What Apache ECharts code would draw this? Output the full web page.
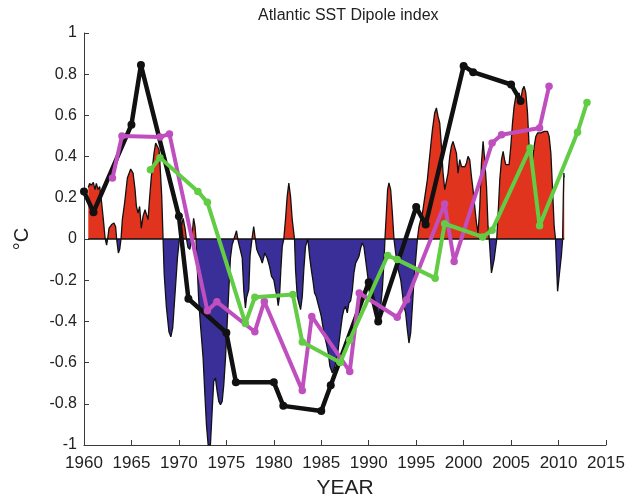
<!DOCTYPE html>
<html>
<head>
<meta charset="utf-8">
<script src="https://cdn.jsdelivr.net/npm/echarts@6/dist/echarts.min.js"></script>
<style>
  html, body { margin: 0; padding: 0; background: #fff; }
  #chart { width: 627px; height: 499px; }
</style>
</head>
<body>
<div id="chart"></div>
<script>
// Monthly-smoothed Atlantic SST dipole index (°C)
const dipoleYears = [
  1960.45, 1960.59, 1960.77, 1960.98, 1961.16, 1961.30, 1961.48, 1961.65, 1961.86, 1962.04,
  1962.22, 1962.38, 1962.49, 1962.64, 1962.91, 1963.16, 1963.33, 1963.44, 1963.62, 1963.76,
  1963.90, 1964.04, 1964.28, 1964.57, 1964.92, 1965.17, 1965.38, 1965.52, 1965.70, 1965.86,
  1966.04, 1966.22, 1966.43, 1966.60, 1966.75, 1966.89, 1967.10, 1967.38, 1967.55, 1967.73,
  1967.91, 1968.02, 1968.19, 1968.33, 1968.45, 1968.68, 1968.95, 1969.15, 1969.35, 1969.60,
  1969.85, 1970.05, 1970.25, 1970.45, 1970.65, 1970.80, 1970.95, 1971.15, 1971.35, 1971.55,
  1971.70, 1971.80, 1971.92, 1972.09, 1972.27, 1972.55, 1972.72, 1972.90, 1973.08, 1973.32,
  1973.50, 1973.67, 1973.85, 1974.03, 1974.20, 1974.38, 1974.56, 1974.73, 1974.91, 1975.08,
  1975.25, 1975.43, 1975.61, 1975.80, 1976.07, 1976.20, 1976.67, 1976.84, 1977.01, 1977.12,
  1977.36, 1977.50, 1977.70, 1977.88, 1978.05, 1978.20, 1978.35, 1978.60, 1978.78, 1979.05,
  1979.30, 1979.55, 1979.76, 1980.00, 1980.18, 1980.36, 1980.46, 1980.60, 1980.74, 1980.89,
  1981.05, 1981.23, 1981.41, 1981.58, 1981.76, 1981.94, 1982.18, 1982.29, 1982.47, 1982.64,
  1982.82, 1983.00, 1983.16, 1983.34, 1983.59, 1983.77, 1983.95, 1984.11, 1984.29, 1984.47,
  1984.64, 1984.82, 1985.00, 1985.17, 1985.35, 1985.53, 1985.74, 1985.91, 1986.16, 1986.33,
  1986.69, 1986.86, 1987.04, 1987.22, 1987.38, 1987.56, 1987.74, 1987.91, 1988.09, 1988.27,
  1988.44, 1988.62, 1988.80, 1988.97, 1989.15, 1989.32, 1989.49, 1989.67, 1989.85, 1990.02,
  1990.20, 1990.38, 1990.73, 1990.91, 1991.08, 1991.26, 1991.43, 1991.60, 1991.71, 1991.86,
  1991.99, 1992.13, 1992.31, 1992.49, 1992.66, 1992.84, 1993.02, 1993.37, 1993.54, 1993.71,
  1993.89, 1994.07, 1994.24, 1994.42, 1994.60, 1994.77, 1994.95, 1995.13, 1995.30, 1995.48,
  1995.66, 1995.82, 1996.18, 1996.35, 1996.53, 1996.71, 1996.95, 1997.13, 1997.30, 1997.48,
  1997.66, 1997.83, 1998.01, 1998.19, 1998.36, 1998.54, 1998.71, 1998.88, 1999.06, 1999.24,
  1999.41, 1999.59, 1999.77, 1999.94, 2000.12, 2000.30, 2000.46, 2000.64, 2000.82, 2000.99,
  2001.17, 2001.35, 2001.52, 2001.70, 2001.88, 2002.05, 2002.22, 2002.41, 2002.57, 2002.70,
  2002.93, 2003.21, 2003.49, 2003.67, 2003.81, 2003.99, 2004.16, 2004.31, 2004.44, 2004.62,
  2004.79, 2004.97, 2005.15, 2005.32, 2005.50, 2005.68, 2005.84, 2006.02, 2006.20, 2006.37,
  2006.55, 2006.73, 2006.90, 2007.08, 2007.26, 2007.43, 2007.61, 2007.79, 2007.96, 2008.14,
  2008.49, 2008.66, 2008.84, 2009.01, 2009.19, 2009.37, 2009.54, 2009.68, 2009.90, 2010.09,
  2010.30, 2010.43, 2010.50, 2010.56, 2010.60
];
const dipoleValues = [
  0.25, 0.27, 0.26, 0.275, 0.24, 0.27, 0.24, 0.255, 0.175, 0.094,
  0.005, -0.03, 0.0, 0.053, 0.07, 0.078, 0.06, 0.0, -0.068, -0.05,
  0.0, 0.094, 0.175, 0.296, 0.34, 0.32, 0.24, 0.158, 0.126, 0.158,
  0.053, 0.11, 0.142, 0.142, 0.094, 0.187, 0.304, 0.417, 0.466, 0.466,
  0.433, 0.352, 0.207, 0.0, -0.17, -0.33, -0.45, -0.475, -0.43, -0.26,
  -0.09, 0.0, 0.06, 0.10, 0.05, 0.0, -0.04, -0.05, 0.0, 0.10,
  0.06, 0.0, -0.125, -0.30, -0.416, -0.578, -0.74, -0.90, -1.0, -1.0,
  -0.837, -0.69, -0.675, -0.74, -0.788, -0.804, -0.788, -0.707, -0.578, -0.416,
  -0.254, -0.092, -0.028, 0.0, 0.04, 0.0, -0.092, -0.254, -0.335, -0.286,
  -0.246, -0.08, 0.0, 0.06, 0.0, -0.05, -0.068, -0.092, -0.117, -0.068,
  -0.092, -0.133, -0.182, -0.198, -0.246, -0.286, -0.324, -0.279, -0.149, -0.036,
  0.0, 0.094, 0.207, 0.272, 0.207, 0.094, 0.0, -0.149, -0.279, -0.311,
  -0.343, -0.279, -0.149, -0.036, 0.0, -0.084, -0.149, -0.198, -0.262, -0.279,
  -0.311, -0.343, -0.376, -0.424, -0.473, -0.505, -0.553, -0.618, -0.65, -0.634,
  -0.57, -0.505, -0.44, -0.376, -0.343, -0.327, -0.359, -0.311, -0.30, -0.25,
  -0.165, -0.117, -0.10, -0.084, -0.044, -0.019, -0.036, -0.10, -0.165, -0.23,
  -0.246, -0.279, -0.311, -0.343, -0.392, -0.327, -0.246, -0.117, 0.0, 0.126,
  0.24, 0.272, 0.24, 0.126, 0.0, -0.068, -0.133, -0.198, -0.262, -0.327,
  -0.359, -0.44, -0.505, -0.456, -0.327, -0.198, -0.10, 0.0, 0.061, 0.094,
  0.126, 0.175, 0.288, 0.369, 0.45, 0.53, 0.612, 0.636, 0.595, 0.563,
  0.45, 0.32, 0.24, 0.24, 0.32, 0.401, 0.45, 0.474, 0.466, 0.417,
  0.32, 0.385, 0.352, 0.345, 0.35, 0.369, 0.401, 0.385, 0.304, 0.24,
  0.158, 0.078, 0.029, 0.158, 0.369, 0.474, 0.385, 0.255, 0.061, 0.0,
  -0.165, -0.10, 0.0, 0.158, 0.288, 0.385, 0.425, 0.385, 0.361, 0.352,
  0.361, 0.45, 0.563, 0.644, 0.692, 0.70, 0.709, 0.676, 0.725, 0.741,
  0.709, 0.612, 0.45, 0.369, 0.385, 0.45, 0.498, 0.515, 0.506, 0.515,
  0.522, 0.515, 0.522, 0.498, 0.417, 0.24, 0.061, 0.0, -0.254, -0.17,
  -0.08, 0.0, 0.20, 0.32, 0.30
];

// Paired-year estimates (black, magenta, green)
const blackYears  = [1960, 1961, 1965, 1966, 1970, 1971, 1975, 1976, 1980, 1981, 1985, 1986, 1990, 1991, 1995, 1996, 2000, 2001, 2005, 2006];
const blackValues = [0.23, 0.13, 0.555, 0.845, 0.11, -0.29, -0.455, -0.695, -0.695, -0.81, -0.835, -0.71, -0.21, -0.40, 0.155, 0.07, 0.84, 0.81, 0.75, 0.67];

const magentaYears  = [1963, 1964, 1968, 1969, 1973, 1974, 1978, 1979, 1983, 1984, 1988, 1989, 1993, 1994, 1998, 1999, 2003, 2004, 2008, 2009];
const magentaValues = [0.296, 0.50, 0.495, 0.51, -0.348, -0.305, -0.45, -0.303, -0.736, -0.376, -0.643, -0.262, -0.38, -0.295, 0.17, -0.109, 0.466, 0.506, 0.539, 0.741];

const greenYears  = [1967, 1968, 1972, 1973, 1977, 1978, 1982, 1983, 1987, 1988, 1992, 1993, 1997, 1998, 2002, 2003, 2007, 2008, 2012, 2013];
const greenValues = [0.336, 0.395, 0.231, 0.178, -0.41, -0.283, -0.27, -0.50, -0.60, -0.49, -0.08, -0.10, -0.19, 0.074, 0.01, 0.042, 0.442, 0.064, 0.518, 0.663];

// Axis ticks
const xTicks = [1960, 1965, 1970, 1975, 1980, 1985, 1990, 1995, 2000, 2005, 2010, 2015];
const yTicks = [-1, -0.8, -0.6, -0.4, -0.2, 0, 0.2, 0.4, 0.6, 0.8, 1];

const zip = (xs, ys) => xs.map((x, i) => [x, ys[i]]);
const dipole = zip(dipoleYears, dipoleValues);
const baseline = [[dipoleYears[0], 0], [dipoleYears[dipoleYears.length - 1], 0]];

const FONT = '"Liberation Sans", Arial, Helvetica, sans-serif';
const AXIS_COLOR = '#3a3a3a';
const WARM = '#e1341e';
const COLD = '#3a2f98';

const chart = echarts.init(document.getElementById('chart'), null, { renderer: 'canvas' });

function pointLine(name, data, color, width, size, z) {
  return {
    name, type: 'line', data, z,
    symbol: 'circle', symbolSize: size, showSymbol: true,
    lineStyle: { color, width, cap: 'round', join: 'round' },
    itemStyle: { color },
    animation: false, silent: true
  };
}

chart.setOption({
  animation: false,
  backgroundColor: '#ffffff',
  title: {
    text: 'Atlantic SST Dipole index',
    left: 253, top: 3,
    textStyle: { fontFamily: FONT, fontSize: 16, fontWeight: 'normal', color: '#222' }
  },
  grid: { left: 84, top: 33, right: 21, bottom: 54, containLabel: false, outerBoundsMode: 'none' },
  xAxis: {
    type: 'value', min: xTicks[0], max: xTicks[xTicks.length - 1], interval: 5,
    name: 'YEAR', nameLocation: 'middle', nameGap: 33,
    nameTextStyle: { fontFamily: FONT, fontSize: 21, color: '#222' },
    axisLine: { show: true, onZero: false, lineStyle: { color: AXIS_COLOR, width: 1 } },
    axisTick: { show: true, inside: true, length: 5, lineStyle: { color: AXIS_COLOR } },
    axisLabel: { fontFamily: FONT, fontSize: 17, color: '#222', margin: 10, formatter: v => String(v) },
    splitLine: { show: false }
  },
  yAxis: {
    type: 'value', min: yTicks[0], max: yTicks[yTicks.length - 1], interval: 0.2,
    name: '°C', nameLocation: 'middle', nameGap: 52, nameRotate: 90,
    nameTextStyle: { fontFamily: FONT, fontSize: 20, color: '#222' },
    axisLine: { show: true, lineStyle: { color: AXIS_COLOR, width: 1 } },
    axisTick: { show: true, inside: true, length: 5, lineStyle: { color: AXIS_COLOR } },
    axisLabel: {
      fontFamily: FONT, fontSize: 16, color: '#222', margin: 7,
      formatter: v => String(Math.round(v * 10) / 10)
    },
    splitLine: { show: false }
  },
  // Warm anomalies red, cold anomalies blue (split at 0 °C)
  visualMap: {
    show: false, type: 'piecewise', seriesIndex: 0, dimension: 1,
    pieces: [
      { gte: -2, lt: 0, color: COLD },
      { gte: 0, lte: 2, color: WARM }
    ],
    outOfRange: { color: COLD }
  },
  series: [
    {
      name: 'dipole fill', type: 'line', data: dipole, z: 2,
      showSymbol: false, symbol: 'none',
      lineStyle: { width: 0 },
      areaStyle: { opacity: 1 },
      animation: false, silent: true
    },
    {
      name: 'dipole outline', type: 'line', data: dipole, z: 3,
      showSymbol: false, symbol: 'none',
      lineStyle: { color: '#111', width: 1.3 },
      animation: false, silent: true
    },
    {
      name: 'baseline', type: 'line', data: baseline, z: 3,
      showSymbol: false, symbol: 'none',
      lineStyle: { color: '#111', width: 1.3 },
      animation: false, silent: true
    },
    pointLine('black', zip(blackYears, blackValues), '#111111', 4.5, 8, 5),
    pointLine('magenta', zip(magentaYears, magentaValues), '#bf4fbf', 4, 7.5, 6),
    pointLine('green', zip(greenYears, greenValues), '#62cc45', 4, 7.5, 7)
  ]
});
</script>
</body>
</html>
